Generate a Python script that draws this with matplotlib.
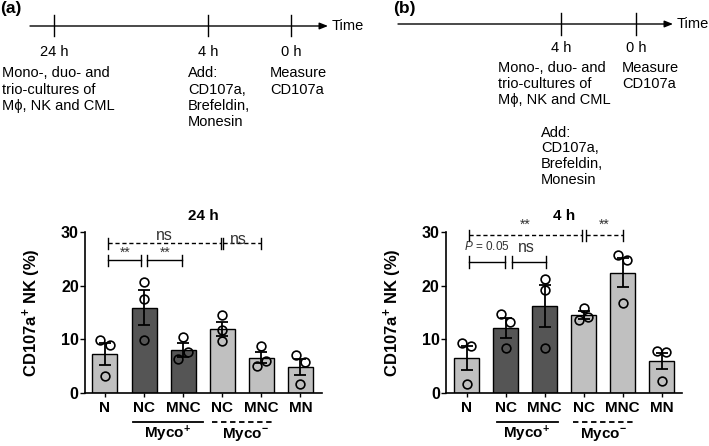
import numpy as np
import matplotlib
matplotlib.use("Agg")
import matplotlib.pyplot as plt

plt.rcParams['font.family'] = ['Liberation Sans', 'DejaVu Sans']
plt.rcParams['mathtext.fontset'] = 'custom'
plt.rcParams['mathtext.rm'] = 'Liberation Sans'
plt.rcParams['mathtext.bf'] = 'Liberation Sans:bold'
plt.rcParams['mathtext.it'] = 'Liberation Sans:italic'

# Data
groups = ["N", "NC", "MNC", "NC", "MNC", "MN"]
dark = [False, True, True, False, False, False]

mean_24h = [7.3, 15.9, 8.0, 11.9, 6.6, 4.8]
sem_24h = [2.0, 3.2, 1.3, 1.3, 1.0, 1.5]
pts_24h = [[9.9, 8.9, 3.2], [20.7, 17.6, 9.8], [10.4, 7.6, 6.4],
           [14.5, 11.7, 9.7], [8.7, 5.9, 5.1], [7.1, 5.75, 1.7]]
jit_24h = [[-1, 1, 0], [0, 0, 0], [0, 1, -1], [0, 0, 0], [0, 1, -1], [-1, 1, 0]]

mean_4h = [6.5, 12.1, 16.2, 14.5, 22.4, 5.9]
sem_4h = [2.3, 1.9, 3.9, 0.8, 2.7, 1.5]
pts_4h = [[9.3, 8.7, 1.6], [14.7, 13.3, 8.4], [21.2, 19.1, 8.4],
          [15.9, 14.2, 13.6], [25.75, 24.8, 16.8], [7.9, 7.7, 2.3]]
jit_4h = [[-1, 1, 0], [-1, 1, 0], [0, 0, 0], [0, 1, -1], [-1, 1, 0], [-1, 1, 0]]

W, H = 709, 446
fig = plt.figure(figsize=(W / 100, H / 100), dpi=100)

LIGHT = "#c0c0c0"
DARK = "#555555"
ANN = "#333333"


def bracket(ax, x0, x1, y, dashed=False, h=1.0):
    ls = (0, (3, 2)) if dashed else "-"
    ax.plot([x0, x1], [y, y], color="k", lw=1.0, ls=ls, clip_on=False)
    for x in (x0, x1):
        ax.plot([x, x], [y - h, y + h], color="k", lw=1.0, clip_on=False)


def bar_panel(rect, means, sems, pts, jit, title, xlim):
    ax = fig.add_axes(rect)
    x = np.arange(len(means))
    cols = [DARK if d else LIGHT for d in dark]
    ax.bar(x, means, width=0.64, color=cols, edgecolor="k", linewidth=1.0, zorder=2)
    ax.errorbar(x, means, yerr=sems, fmt="none", ecolor="k", elinewidth=1.3,
                capsize=4.5, capthick=1.3, zorder=3)
    for i in range(len(means)):
        ax.plot(x[i] + np.array(jit[i]) * 0.12, pts[i], "o", mfc="none", mec="k",
                ms=6.3, mew=1.2, zorder=4, clip_on=False)
    ax.set_ylim(0, 30)
    ax.set_xlim(*xlim)
    ax.set_yticks([0, 10, 20, 30])
    ax.set_xticks(x)
    ax.set_xticklabels(groups, fontsize=11, fontweight="bold")
    for lab in ax.get_yticklabels():
        lab.set_fontsize(11.5)
        lab.set_fontweight("bold")
    ax.tick_params(axis="y", length=3.5, width=1.0, pad=1)
    ax.tick_params(axis="x", length=3, width=1.0, pad=2.5)
    for s in ("top", "right"):
        ax.spines[s].set_visible(False)
    for s in ("left", "bottom"):
        ax.spines[s].set_linewidth(1.2)
    ax.set_ylabel(r"CD107a$^{\mathbf{+}}$ NK (%)", fontsize=12, fontweight="bold")
    ax.yaxis.set_label_coords(-0.177, 0.5)
    ax.set_title(title, fontsize=11, fontweight="bold", pad=9)
    return ax, ax.get_xaxis_transform()


# panel (a)
axa, tra = bar_panel([85 / W, 1 - 393 / H, 237 / W, 161 / H], mean_24h, sem_24h,
                     pts_24h, jit_24h, "24 h", (-0.51, 5.55))
bracket(axa, 0.07, 2.96, 27.9, dashed=True)
bracket(axa, 3.02, 4.0, 27.9, dashed=True)
bracket(axa, 0.07, 0.92, 24.7, h=1.1)
bracket(axa, 1.08, 1.97, 24.7, h=1.1)
axa.text(0.51, 26.2, "**", ha="center", va="center", fontsize=10, color=ANN)
axa.text(1.53, 26.2, "**", ha="center", va="center", fontsize=10, color=ANN)
axa.text(1.51, 29.4, "ns", ha="center", va="center", fontsize=11.5, color=ANN)
axa.text(3.42, 28.6, "ns", ha="center", va="center", fontsize=11.5, color=ANN)
axa.plot([0.72, 2.51], [-0.182, -0.182], color="k", lw=1.3, transform=tra, clip_on=False)
axa.plot([2.73, 4.35], [-0.182, -0.182], color="k", lw=1.3, ls=(0, (3, 2)),
         transform=tra, clip_on=False)
axa.text(1.61, -0.255, r"Myco$^{\mathbf{+}}$", transform=tra, ha="center", va="center",
         fontsize=11, fontweight="bold")
axa.text(3.58, -0.255, r"Myco$^{\mathbf{-}}$", transform=tra, ha="center", va="center",
         fontsize=11, fontweight="bold")

# panel (b)
axb, trb = bar_panel([446 / W, 1 - 393 / H, 236 / W, 161 / H], mean_4h, sem_4h,
                     pts_4h, jit_4h, "4 h", (-0.53, 5.52))
bracket(axb, 0.06, 2.95, 29.4, dashed=True)
bracket(axb, 3.05, 4.0, 29.4, dashed=True)
bracket(axb, 0.06, 0.98, 24.4, h=1.1)
bracket(axb, 1.15, 2.03, 24.4, h=1.1)
axb.text(1.50, 31.3, "**", ha="center", va="center", fontsize=10, color=ANN,
         clip_on=False)
axb.text(3.53, 31.3, "**", ha="center", va="center", fontsize=10, color=ANN,
         clip_on=False)
axb.text(0.51, 27.3, r"$\mathit{P}$ = 0.05", ha="center", va="center", fontsize=8.5,
         color=ANN)
axb.text(1.53, 27.2, "ns", ha="center", va="center", fontsize=11.5, color=ANN)
axb.plot([0.77, 2.35], [-0.182, -0.182], color="k", lw=1.3, transform=trb, clip_on=False)
axb.plot([2.72, 4.32], [-0.182, -0.182], color="k", lw=1.3, ls=(0, (3, 2)),
         transform=trb, clip_on=False)
axb.text(1.54, -0.255, r"Myco$^{\mathbf{+}}$", transform=trb, ha="center", va="center",
         fontsize=11, fontweight="bold")
axb.text(3.50, -0.255, r"Myco$^{\mathbf{-}}$", transform=trb, ha="center", va="center",
         fontsize=11, fontweight="bold")

# timeline diagrams, drawn in pixel space on an overlay
tl = fig.add_axes([0, 0, 1, 1], zorder=-1)
tl.set_xlim(0, W)
tl.set_ylim(H, 0)
tl.axis("off")


def timeline(x0, x1, y, ticks, ytop, ybot):
    tl.annotate("", xy=(x1 + 4, y), xytext=(x0, y),
                arrowprops=dict(arrowstyle="-|>,head_length=0.5,head_width=0.2",
                                color="k", lw=1.0, shrinkA=0, shrinkB=0))
    for t in ticks:
        tl.plot([t, t], [ytop, ybot], color="k", lw=1.0)


def block(x, y, lines, step=16.5):
    for i, s in enumerate(lines):
        tl.text(x, y + i * step, s, ha="left", va="center", fontsize=10.5)


mono = ["Mono-, duo- and", "trio-cultures of", "M\u03d5, NK and CML"]
add = ["Add:", "CD107a,", "Brefeldin,", "Monesin"]
meas = ["Measure", "CD107a"]

tl.text(0, 8, "(a)", ha="left", va="center", fontsize=12.5, fontweight="bold")
timeline(30, 324, 26, [54, 208, 291], 15, 36)
tl.text(332, 26, "Time", ha="left", va="center", fontsize=10.5)
for xt, s in zip([54, 208, 291], ["24 h", "4 h", "0 h"]):
    tl.text(xt, 52, s, ha="center", va="center", fontsize=10.5)
block(2, 73, mono)
block(188, 73, add)
block(270, 73, meas)

tl.text(393, 8, "(b)", ha="left", va="center", fontsize=12.5, fontweight="bold")
timeline(398, 669, 24, [561, 636], 13, 35)
tl.text(677, 24, "Time", ha="left", va="center", fontsize=10.5)
for xt, s in zip([561, 636], ["4 h", "0 h"]):
    tl.text(xt, 48, s, ha="center", va="center", fontsize=10.5)
block(498, 68, mono, step=16)
block(622, 68, meas, step=16)
block(541, 133, add, step=15.5)

fig.savefig("out.png", dpi=100)
